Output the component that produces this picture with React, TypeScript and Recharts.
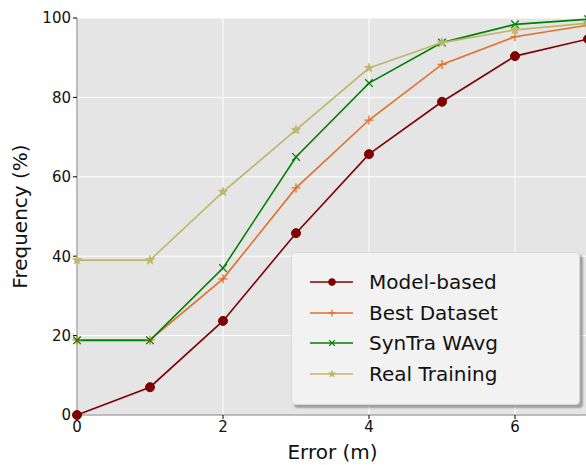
import React from 'react';
import { LineChart, Line, XAxis, YAxis, CartesianGrid } from 'recharts';

const errors = [0, 1, 2, 3, 4, 5, 6, 7];
const modelBased = [0, 7.0, 23.7, 45.8, 65.7, 78.9, 90.4, 94.7];
const bestDataset = [18.9, 18.9, 34.3, 57.2, 74.3, 88.3, 95.3, 98.2];
const syntraWAvg = [18.8, 18.8, 37.0, 65.0, 83.6, 93.8, 98.4, 99.7];
const realTraining = [39.0, 39.0, 56.2, 71.8, 87.4, 93.8, 97.0, 98.7];
const xTicks = [0, 2, 4, 6];
const yTicks = [0, 20, 40, 60, 80, 100];

const data = errors.map((e, i) => ({
  error: e,
  model: modelBased[i],
  best: bestDataset[i],
  syntra: syntraWAvg[i],
  real: realTraining[i],
}));

const FONT = "'DejaVu Sans', sans-serif";

type Kind = 'circle' | 'plus' | 'cross' | 'star';

const Marker = ({ kind, cx, cy, color, s = 1 }: { kind: Kind; cx: number; cy: number; color: string; s?: number }) => {
  if (kind === 'circle') return <circle cx={cx} cy={cy} r={4.5 * s} fill={color} stroke={color} />;
  if (kind === 'plus') {
    const d = 4.5 * s;
    return <path d={`M${cx - d},${cy}H${cx + d}M${cx},${cy - d}V${cy + d}`} stroke={color} strokeWidth={1.3} fill="none" />;
  }
  if (kind === 'cross') {
    const d = 3.8 * s;
    return <path d={`M${cx - d},${cy - d}L${cx + d},${cy + d}M${cx - d},${cy + d}L${cx + d},${cy - d}`} stroke={color} strokeWidth={1.3} fill="none" />;
  }
  const pts: string[] = [];
  for (let k = 0; k < 10; k++) {
    const r = (k % 2 === 0 ? 5 : 2.2) * s;
    const a = -Math.PI / 2 + (k * Math.PI) / 5;
    pts.push(`${cx + r * Math.cos(a)},${cy + r * Math.sin(a)}`);
  }
  return <polygon points={pts.join(' ')} fill={color} stroke={color} strokeWidth={0.5} />;
};

const series: { key: string; name: string; color: string; kind: Kind }[] = [
  { key: 'model', name: 'Model-based', color: '#800000', kind: 'circle' },
  { key: 'best', name: 'Best Dataset', color: '#e0702a', kind: 'plus' },
  { key: 'syntra', name: 'SynTra WAvg', color: '#008000', kind: 'cross' },
  { key: 'real', name: 'Real Training', color: '#bdb76b', kind: 'star' },
];

const LegendBox = () => (
  <div
    style={{
      position: 'absolute',
      left: 291,
      top: 252,
      width: 289,
      height: 153,
      background: '#f2f2f2',
      border: '1px solid #d8d8d8',
      borderRadius: 4,
      boxShadow: '3px 3px 2px rgba(0,0,0,0.3)',
      boxSizing: 'border-box',
      paddingTop: 14,
    }}
  >
    {series.map(s => (
      <div key={s.key} style={{ display: 'flex', alignItems: 'center', height: 30.5, fontFamily: FONT, fontSize: 20, color: '#111' }}>
        <svg width={77} height={20} style={{ flex: 'none' }}>
          <line x1={18} y1={10} x2={61} y2={10} stroke={s.color} strokeWidth={1.6} />
          <Marker kind={s.kind} cx={40} cy={10} color={s.color} s={0.75} />
        </svg>
        <span>{s.name}</span>
      </div>
    ))}
  </div>
);

export default function App() {
  return (
    <div style={{ position: 'absolute', left: 0, top: 0, width: 586, height: 465, overflow: 'hidden', background: '#fff' }}>
      <LineChart width={600} height={465} data={data} margin={{ top: 18, right: 12, bottom: 0, left: 0 }}>
        <CartesianGrid fill="#e5e5e5" stroke="#ffffff" strokeWidth={1} horizontalValues={yTicks} verticalValues={xTicks} />
        <XAxis
          dataKey="error"
          type="number"
          domain={[0, 7]}
          ticks={xTicks}
          height={50}
          stroke="#808080"
          tickSize={4}
          tickLine={{ stroke: '#000' }}
          tick={{ fontFamily: FONT, fontSize: 15, fill: '#111' }}
          label={{ value: 'Error (m)', position: 'insideBottom', offset: 6, style: { fontFamily: FONT, fontSize: 20, fill: '#111' } }}
        />
        <YAxis
          type="number"
          domain={[0, 100]}
          ticks={yTicks}
          width={77}
          stroke="#808080"
          tickSize={4}
          tickLine={{ stroke: '#000' }}
          tick={{ fontFamily: FONT, fontSize: 15, fill: '#111' }}
          label={{ value: 'Frequency (%)', angle: -90, position: 'insideLeft', offset: 20, style: { textAnchor: 'middle', fontFamily: FONT, fontSize: 20, fill: '#111' } }}
        />
        {series.map(s => (
          <Line
            key={s.key}
            dataKey={s.key}
            name={s.name}
            stroke={s.color}
            strokeWidth={1.6}
            isAnimationActive={false}
            dot={(p: any) => <Marker key={`${s.key}-${p.index}`} kind={s.kind} cx={p.cx} cy={p.cy} color={s.color} />}
            activeDot={false}
          />
        ))}
      </LineChart>
      <LegendBox />
    </div>
  );
}
